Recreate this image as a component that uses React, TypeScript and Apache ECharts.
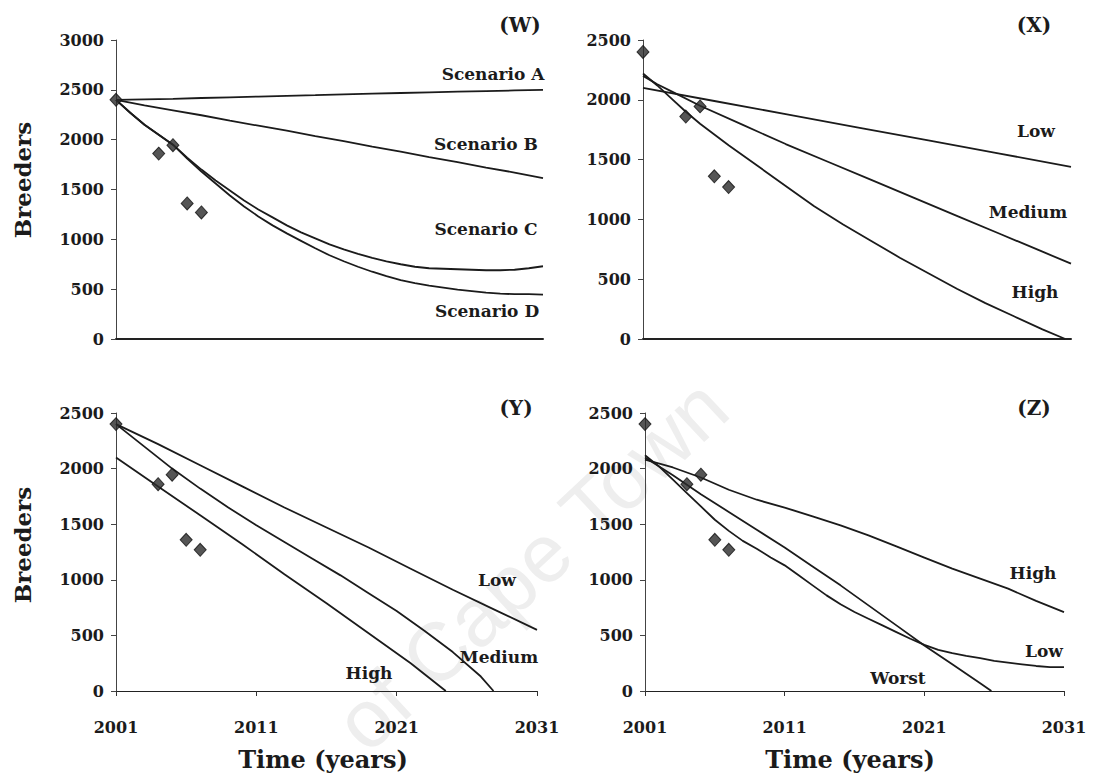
import React, { useEffect, useRef } from "react";
import * as echarts from "echarts";

// ---- Data -------------------------------------------------------------

// Observed breeder counts
const obsYears = [2001, 2004, 2005, 2006, 2007];
const obsBreeders = [2400, 1860, 1945, 1360, 1270];

// Year labels on the time axis
const yearTicks = [2001, 2011, 2021, 2031];

// (W) scenario projections
const wYears = [2001, 2003, 2005, 2007, 2009, 2011, 2013, 2015, 2017, 2019, 2021, 2023, 2025, 2027, 2029, 2031];
const scenarioA = [2400, 2405, 2410, 2418, 2425, 2432, 2440, 2447, 2455, 2462, 2468, 2475, 2482, 2488, 2494, 2500];
const scenarioB = [2400, 2345, 2295, 2245, 2190, 2140, 2090, 2035, 1985, 1930, 1880, 1825, 1775, 1720, 1670, 1615];

const cdYears = [
  2001, 2002, 2003, 2004, 2005, 2006, 2007, 2008, 2009, 2010, 2011, 2012, 2013, 2014, 2015, 2016,
  2017, 2018, 2019, 2020, 2021, 2022, 2023, 2024, 2025, 2026, 2027, 2028, 2029, 2030, 2031,
];
const scenarioC = [
  2400, 2270, 2150, 2050, 1950, 1820, 1700, 1590, 1490, 1390, 1300, 1220, 1140, 1070, 1010, 950,
  900, 855, 815, 780, 750, 725, 710, 705, 700, 695, 690, 690, 695, 710, 730,
];
const scenarioD = [
  2400, 2270, 2150, 2050, 1950, 1810, 1680, 1560, 1440, 1330, 1230, 1140, 1060, 985, 910, 840,
  780, 725, 675, 630, 590, 560, 535, 515, 495, 480, 465, 455, 450, 450, 445,
];

// (X) harvest levels
const xLowYears = [2001, 2006, 2011, 2016, 2021, 2026, 2031];
const xLow = [2100, 1990, 1880, 1770, 1660, 1550, 1440];
const xMediumYears = [2001, 2002, 2003, 2005, 2008, 2011, 2014, 2017, 2020, 2023, 2026, 2029, 2031];
const xMedium = [2200, 2130, 2070, 1950, 1790, 1630, 1480, 1330, 1180, 1030, 880, 730, 630];
const xHighYears = [2001, 2002, 2003, 2004, 2005, 2006, 2007, 2009, 2011, 2013, 2015, 2017, 2019, 2021, 2023, 2025, 2027, 2029, 2030.6];
const xHigh = [2220, 2120, 2010, 1900, 1800, 1710, 1620, 1450, 1280, 1110, 960, 820, 680, 550, 420, 300, 190, 80, 0];

// (Y) harvest levels
const yLowYears = [2001, 2004, 2007, 2010, 2013, 2016, 2019, 2022, 2025, 2028, 2031];
const yLow = [2400, 2220, 2030, 1840, 1650, 1470, 1290, 1100, 910, 730, 550];
const yMediumYears = [2001, 2003, 2005, 2007, 2009, 2011, 2013, 2015, 2017, 2019, 2021, 2023, 2025, 2027, 2027.9];
const yMedium = [2400, 2200, 2000, 1820, 1650, 1490, 1340, 1190, 1040, 880, 720, 540, 350, 130, 0];
const yHighYears = [2001, 2004, 2007, 2010, 2013, 2016, 2019, 2022, 2024.5];
const yHigh = [2100, 1840, 1580, 1320, 1050, 790, 520, 250, 0];

// (Z) combined cases
const zHighYears = [2001, 2003, 2005, 2007, 2009, 2011, 2013, 2015, 2017, 2019, 2021, 2023, 2025, 2027, 2029, 2031];
const zHigh = [2080, 2010, 1920, 1810, 1720, 1650, 1570, 1490, 1400, 1300, 1200, 1100, 1010, 920, 810, 710];
const zLowYears = cdYears;
const zLow = [
  2120, 2020, 1900, 1780, 1660, 1540, 1440, 1350, 1280, 1200, 1130, 1040, 950, 860, 780, 710,
  650, 590, 530, 470, 415, 370, 340, 315, 295, 270, 255, 240, 225, 215, 215,
];
const zWorstYears = [2001, 2003, 2005, 2007, 2009, 2011, 2013, 2015, 2017, 2019, 2021, 2023, 2025, 2025.8];
const zWorst = [2100, 1940, 1770, 1610, 1450, 1290, 1120, 950, 770, 590, 410, 240, 70, 0];

// ---- Styling ----------------------------------------------------------

const FONT = '"DejaVu Serif", "Liberation Serif", serif';
const INK = "#1b1b1b";

const grids = [
  { left: 116, top: 40, width: 427, height: 299 },
  { left: 643, top: 40, width: 428, height: 299 },
  { left: 116, top: 413, width: 421, height: 278 },
  { left: 645, top: 413, width: 419, height: 278 },
];
const yMax = [3000, 2500, 2500, 2500];

const plain = (v: number) => String(v);

const pair = (xs: number[], ys: number[]) => xs.map((x, i) => [x, ys[i]]);

const line = (g: number, xs: number[], ys: number[]) => ({
  type: "line",
  xAxisIndex: g,
  yAxisIndex: g,
  data: pair(xs, ys),
  symbol: "none",
  showSymbol: false,
  lineStyle: { color: INK, width: 1.8 },
  z: 3,
});

const observed = (g: number) => ({
  type: "scatter",
  xAxisIndex: g,
  yAxisIndex: g,
  data: pair(obsYears, obsBreeders),
  symbol: "diamond",
  symbolSize: [12, 13],
  itemStyle: { color: "#2a2a2a", borderColor: "#111", borderWidth: 1 },
  z: 4,
});

const label = (text: string, x: number, y: number, size = 17, align = "center") => ({
  type: "text",
  x,
  y,
  style: {
    text,
    fill: INK,
    font: `bold ${size}px ${FONT}`,
    textAlign: align,
    textVerticalAlign: "middle",
  },
  z: 10,
});

export default function App() {
  const ref = useRef<HTMLDivElement>(null);

  useEffect(() => {
    if (!ref.current) return;
    const chart = echarts.init(ref.current, undefined, { renderer: "svg" });

    const xAxes = grids.map((_, i) => {
      const bottom = i >= 2;
      return {
        gridIndex: i,
        type: "value",
        min: 2001,
        max: 2031,
        axisLine: { show: true, onZero: false, lineStyle: { color: "#222", width: bottom ? 1 : 2 } },
        axisTick: { show: bottom, length: 5, customValues: yearTicks, lineStyle: { color: "#333" } },
        axisLabel: {
          show: bottom,
          customValues: yearTicks,
          formatter: plain,
          margin: 28,
          fontFamily: FONT,
          fontWeight: "bold",
          fontSize: 16,
          color: INK,
        },
        splitLine: { show: false },
      };
    });

    const yAxes = grids.map((_, i) => ({
      gridIndex: i,
      type: "value",
      min: 0,
      max: yMax[i],
      interval: 500,
      axisLine: { show: true, lineStyle: { color: "#444", width: 1 } },
      axisTick: { show: true, length: 5, lineStyle: { color: "#444" } },
      axisLabel: {
        margin: 12,
        formatter: plain,
        fontFamily: FONT,
        fontWeight: "bold",
        fontSize: 16,
        color: INK,
      },
      splitLine: { show: false },
    }));

    const series = [
      observed(0),
      line(0, wYears, scenarioA),
      line(0, wYears, scenarioB),
      line(0, cdYears, scenarioC),
      line(0, cdYears, scenarioD),
      observed(1),
      line(1, xLowYears, xLow),
      line(1, xMediumYears, xMedium),
      line(1, xHighYears, xHigh),
      observed(2),
      line(2, yLowYears, yLow),
      line(2, yMediumYears, yMedium),
      line(2, yHighYears, yHigh),
      observed(3),
      line(3, zHighYears, zHigh),
      line(3, zLowYears, zLow),
      line(3, zWorstYears, zWorst),
    ];

    const graphic = [
      {
        type: "text",
        x: 742,
        y: 424,
        rotation: 0.75,
        style: {
          text: "of Cape Town",
          fill: "#eeeeee",
          font: `82px "Liberation Sans", "DejaVu Sans", sans-serif`,
          textAlign: "right",
          textVerticalAlign: "bottom",
        },
        z: -10,
      },
      // axis titles
      { ...label("Breeders", 22, 180, 23), rotation: Math.PI / 2 },
      { ...label("Breeders", 22, 545, 23), rotation: Math.PI / 2 },
      label("Time (years)", 323, 759, 24),
      label("Time (years)", 850, 759, 24),
      // panel letters
      label("(W)", 520, 25, 20),
      label("(X)", 1034, 25, 20),
      label("(Y)", 516, 408, 20),
      label("(Z)", 1034, 408, 20),
      // curve names
      label("Scenario A", 493, 74),
      label("Scenario B", 486, 144),
      label("Scenario C", 486, 229),
      label("Scenario D", 487, 311),
      label("Low", 1036, 131),
      label("Medium", 1028, 212),
      label("High", 1035, 292),
      label("Low", 497, 580),
      label("Medium", 499, 657),
      label("High", 369, 673),
      label("High", 1033, 573),
      label("Low", 1044, 651),
      label("Worst", 898, 678),
    ];

    chart.setOption({
      animation: false,
      backgroundColor: "#ffffff",
      grid: grids.map((g) => ({ ...g, containLabel: false, outerBoundsMode: "none" })),
      xAxis: xAxes,
      yAxis: yAxes,
      series,
      graphic,
    });

    return () => chart.dispose();
  }, []);

  return (
    <div
      ref={ref}
      style={{ position: "absolute", left: 0, top: 0, width: 1095, height: 778, background: "#fff" }}
    />
  );
}
